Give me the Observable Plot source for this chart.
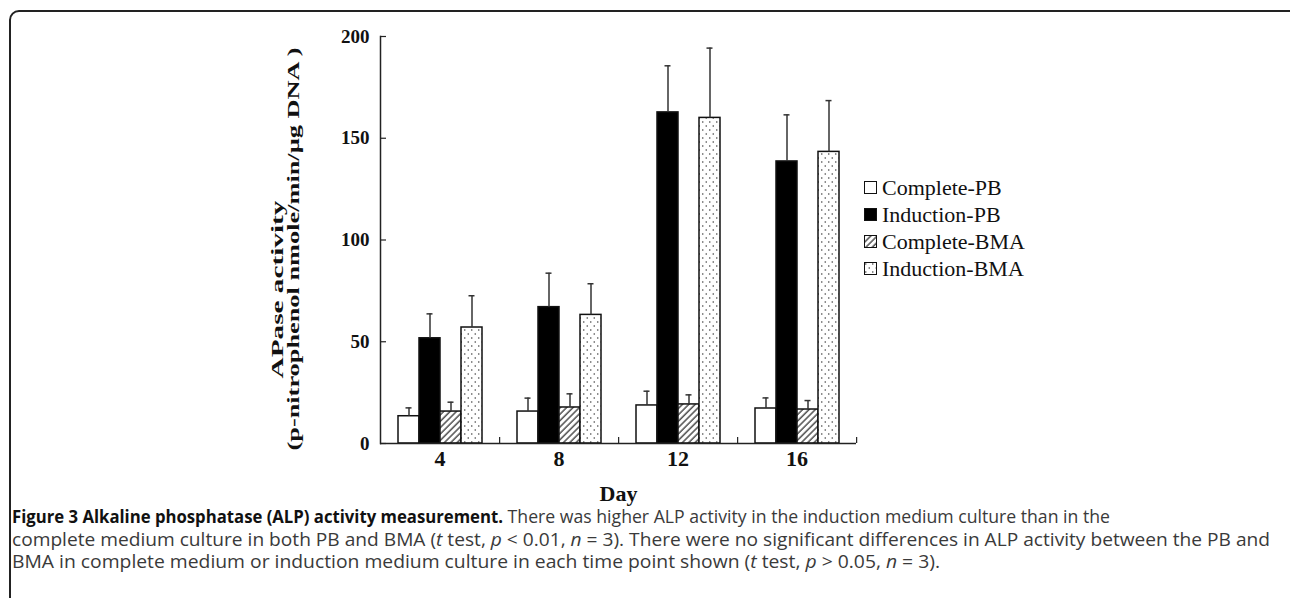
<!DOCTYPE html>
<html>
<head>
<meta charset="utf-8">
<script src="https://cdn.jsdelivr.net/npm/d3@7"></script>
<script src="https://cdn.jsdelivr.net/npm/@observablehq/plot@0.6"></script>
<style>
html, body { margin: 0; padding: 0; background: #fff; overflow: hidden; width: 1290px; height: 598px; }
#wrap { position: relative; width: 1290px; height: 598px; overflow: hidden; }
#border { position: absolute; left: 9px; top: 10px; width: 1300px; height: 700px; border: 2px solid #222; border-radius: 10px; box-sizing: border-box; }
#chart { position: absolute; left: 0; top: 0; }
#legend { position: absolute; left: 864px; top: 174px; font-family: "Liberation Serif", serif; font-size: 22px; color: #111; }
.row { display: flex; align-items: center; height: 27px; white-space: nowrap; }
.row svg { margin-right: 5px; flex: none; }
#caption { position: absolute; left: 12px; top: 505px; font-family: "Open Sans", sans-serif; font-size: 18px; color: #3a3a3a; line-height: 22.5px; }
#caption b { color: #111; display: inline-block; transform-origin: 0 0; }
.line { white-space: nowrap; transform-origin: 0 0; display: inline-block; }
</style>
</head>
<body>
<div id="wrap">
  <div id="border"></div>
  <div id="chart"></div>
  <div id="legend"></div>
  <div id="caption">
    <div><span class="line" id="l1"><b id="bold">Figure 3 Alkaline phosphatase (ALP) activity measurement.</b> There was higher ALP activity in the induction medium culture than in the</span></div>
    <div><span class="line" id="l2">complete medium culture in both PB and BMA (<i>t</i> test, <i>p</i> &lt; 0.01, <i>n</i> = 3). There were no significant differences in ALP activity between the PB and</span></div>
    <div><span class="line" id="l3">BMA in complete medium or induction medium culture in each time point shown (<i>t</i> test, <i>p</i> &gt; 0.05, <i>n</i> = 3).</span></div>
  </div>
</div>
<script>
// ---- data ----
const days = [4, 8, 12, 16];
const series = ["Complete-PB", "Induction-PB", "Complete-BMA", "Induction-BMA"];
const completePB     = [13.4, 15.7, 18.7, 17.2];
const completePBErr  = [4.1, 6.6, 7.0, 5.2];
const inductionPB    = [51.7, 67.0, 162.7, 138.6];
const inductionPBErr = [12.0, 16.7, 22.9, 22.9];
const completeBMA    = [15.7, 17.7, 19.2, 16.7];
const completeBMAErr = [4.6, 6.7, 4.7, 4.4];
const inductionBMA   = [57.0, 63.2, 160.0, 143.3];
const inductionBMAErr= [15.6, 15.3, 34.3, 25.2];
const yTicks = [0, 50, 100, 150, 200];
const yTitle1 = "APase activity";
const yTitle2 = "(p-nitrophenol nmole/min/\u00b5g DNA )";
const xTitle = "Day";
const fills = ["white", "black", "url(#hatch)", "url(#dots)"];

const values = [completePB, inductionPB, completeBMA, inductionBMA];
const errors = [completePBErr, inductionPBErr, completeBMAErr, inductionBMAErr];
const rows = [];
days.forEach((day, di) => series.forEach((s, si) => {
  rows.push({day, series: s, value: values[si][di], top: values[si][di] + errors[si][di]});
}));

// ---- layout ----
const W = 1290, H = 505;
const mL = 379, mR = 434, mT = 36, mB = H - 443;
const facetBand = (W - mL - mR) / days.length;

const chart = Plot.plot({
  width: W, height: H,
  marginLeft: mL, marginRight: mR, marginTop: mT, marginBottom: mB,
  style: {fontFamily: "'Liberation Serif', serif", background: "transparent", color: "#111", overflow: "visible"},
  fx: {domain: days, padding: 0},
  x: {domain: series, paddingInner: 0, paddingOuter: 0.71, axis: null},
  y: {domain: [0, 200]},
  color: {type: "ordinal", domain: series, range: fills},
  marks: [
    Plot.barY(rows, {fx: "day", x: "series", y: "value", fill: "series", stroke: "#111", strokeWidth: 1.5}),
    Plot.ruleX(rows, {fx: "day", x: "series", y1: "value", y2: "top", stroke: "#333", strokeWidth: 1.5}),
    Plot.tickY(rows, {fx: "day", x: "series", y: "top", stroke: "#333", strokeWidth: 1.5, insetLeft: 7.5, insetRight: 7.5}),
    Plot.ruleY([0], {stroke: "#222", strokeWidth: 1.5}),
    Plot.frame({anchor: "left", facetAnchor: "left", stroke: "#222", strokeWidth: 1.5}),
    Plot.axisY({ticks: yTicks, tickSize: -6, tickPadding: 17, fontSize: 19, fontWeight: "bold", label: null, stroke: "#222", strokeWidth: 1.2}),
    Plot.axisFx({anchor: "bottom", tickSize: 0, tickPadding: 7, fontSize: 22, fontWeight: "bold", label: xTitle, labelAnchor: "center", labelOffset: 57}),
    Plot.axisFx({anchor: "bottom", tickSize: -6, tickFormat: () => "", label: null, dx: facetBand / 2, stroke: "#222", strokeWidth: 1.2}),
    Plot.text([yTitle1], {frameAnchor: "left", facetAnchor: "left", rotate: -90, textAnchor: "start", dx: -103, dy: 138.5, fontSize: 16, fontWeight: "bold", fill: "#111"}),
    Plot.text([yTitle2], {frameAnchor: "left", facetAnchor: "left", rotate: -90, textAnchor: "start", dx: -87, dy: 210.5, fontSize: 16, fontWeight: "bold", fill: "#111"})
  ]
});

// patterns
const svg = d3.select(chart);
function addDefs(sel) {
  const defs = sel.insert("defs", ":first-child");
  const h = defs.append("pattern").attr("id", "hatch").attr("patternUnits", "userSpaceOnUse")
    .attr("width", 4.5).attr("height", 4.5).attr("patternTransform", "rotate(45)");
  h.append("rect").attr("width", 4.5).attr("height", 4.5).attr("fill", "white");
  h.append("line").attr("x1", 1).attr("x2", 1).attr("y1", 0).attr("y2", 4.5).attr("stroke", "#333").attr("stroke-width", 1.3);
  const d = defs.append("pattern").attr("id", "dots").attr("patternUnits", "userSpaceOnUse")
    .attr("width", 7).attr("height", 8);
  d.append("rect").attr("width", 7).attr("height", 8).attr("fill", "white");
  d.append("circle").attr("cx", 1.75).attr("cy", 2).attr("r", 0.8).attr("fill", "#444");
  d.append("circle").attr("cx", 5.25).attr("cy", 6).attr("r", 0.8).attr("fill", "#444");
}
addDefs(svg);
// stretch rotated titles to the reference lengths
svg.selectAll("text").each(function() {
  const t = this.textContent;
  if (t === yTitle1) d3.select(this).attr("textLength", 178).attr("lengthAdjust", "spacingAndGlyphs");
  if (t === yTitle2) d3.select(this).attr("textLength", 403).attr("lengthAdjust", "spacingAndGlyphs");
});
document.getElementById("chart").appendChild(chart);

// legend
const legend = d3.select("#legend");
series.forEach((s, i) => {
  const row = legend.append("div").attr("class", "row");
  const sw = row.append("svg").attr("width", 13).attr("height", 13);
  sw.append("rect").attr("x", 0.5).attr("y", 0.5).attr("width", 12).attr("height", 12)
    .attr("fill", fills[i]).attr("stroke", "#111").attr("stroke-width", 1);
  row.append("span").text(s);
});

// caption fitting: each line to the width it has in the reference
const bold = document.getElementById("bold");
const l1 = document.getElementById("l1");
const b = bold.getBoundingClientRect().width;
const r = l1.getBoundingClientRect().width - b;
const frac = 491 / 1098;
const s = frac * r / ((1 - frac) * b);
bold.style.transform = `scaleX(${s})`;
bold.style.marginRight = `${-(1 - s) * b}px`;
const targets = {l1: 1098, l2: 1258, l3: 928};
Object.entries(targets).forEach(([id, w]) => {
  const el = document.getElementById(id);
  const k = w / el.getBoundingClientRect().width;
  el.style.transform = `scaleX(${k})`;
});
</script>
</body>
</html>
